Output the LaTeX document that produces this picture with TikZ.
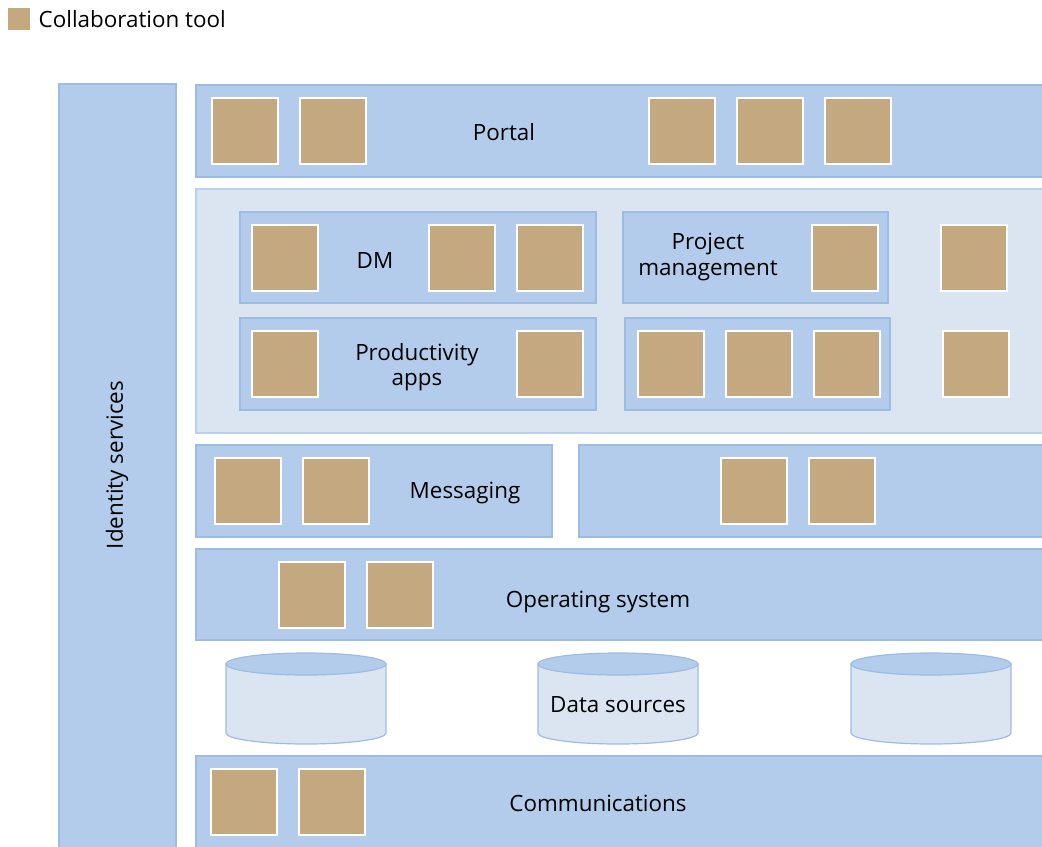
\documentclass[tikz,border=0pt]{standalone}
\usepackage{fontspec}
\setmainfont{Open Sans}
\usetikzlibrary{fit}
\definecolor{bandblue}{RGB}{179,204,235}
\definecolor{bandedge}{RGB}{157,188,226}
\definecolor{lightblue}{RGB}{218,229,241}
\definecolor{tan}{RGB}{196,168,128}
\tikzset{
  band/.style={draw=bandedge, fill=bandblue, line width=0.9pt, inner sep=0pt},
  lightband/.style={draw=bandedge!70, fill=lightblue, line width=0.9pt, inner sep=0pt},
  tool/.style={draw=white, fill=tan, line width=0.9pt, minimum size=49.5pt, inner sep=0pt},
  lbl/.style={font=\fontsize{16.8}{19}\selectfont, align=center, text=black},
  cylbody/.style={draw=bandedge, fill=lightblue, line width=0.9pt},
  cyltop/.style={draw=bandedge, fill=bandblue, line width=0.9pt},
}
\begin{document}
\begin{tikzpicture}[x=0.75pt, y=-0.75pt]
\useasboundingbox (0,0) rectangle (1042,846);
\clip (0,0) rectangle (1042,846);
% legend
\node[tool, minimum size=16.5pt, draw=none] (leg) at (19,19) {};
\node[lbl, anchor=west] (legt) at (34,19) {Collaboration tool};
% identity services
\node[band, fit={(59,84)(176,850)}] (ident) {};
\node[lbl, rotate=90] (identt) at (117,465) {Identity services};
% portal
\node[band, fit={(196,85)(1050,177)}] (portal) {};
\node[lbl] (portalt) at (504,132) {Portal};
\node[tool] (p1) at (245,131) {};
\node[tool] (p2) at (333,131) {};
\node[tool] (p3) at (682,131) {};
\node[tool] (p4) at (770,131) {};
\node[tool] (p5) at (858,131) {};
% middle light band
\node[lightband, fit={(196,189)(1050,433)}] (mid) {};
\node[band, fit={(240,212)(596,303)}] (dm) {};
\node[lbl] (dmt) at (375,261) {DM};
\node[tool] (d1) at (285,258) {};
\node[tool] (d2) at (462,258) {};
\node[tool] (d3) at (550,258) {};
\node[band, fit={(623,212)(888,303)}] (pm) {};
\node[lbl] (pmt) at (708,257) {Project\\management};
\node[tool] (pm1) at (845,258) {};
\node[tool] (s1) at (974,258) {};
\node[band, fit={(240,318)(596,410)}] (prod) {};
\node[lbl] (prodt) at (417,367) {Productivity\\apps};
\node[tool] (pr1) at (285,364) {};
\node[tool] (pr2) at (550,364) {};
\node[band, fit={(625,318)(890,410)}] (rb) {};
\node[tool] (r1) at (671,364) {};
\node[tool] (r2) at (759,364) {};
\node[tool] (r3) at (847,364) {};
\node[tool] (s2) at (976,364) {};
% messaging
\node[band, fit={(196,445)(552,537)}] (msg) {};
\node[lbl] (msgt) at (465,493) {Messaging};
\node[tool] (m1) at (248,491) {};
\node[tool] (m2) at (336,491) {};
\node[band, fit={(579,445)(1050,537)}] (msgr) {};
\node[tool] (m3) at (754,491) {};
\node[tool] (m4) at (842,491) {};
% operating system
\node[band, fit={(196,549)(1050,640)}] (os) {};
\node[lbl] (ost) at (598,602) {Operating system};
\node[tool] (o1) at (312,595) {};
\node[tool] (o2) at (400,595) {};
% data sources
\foreach \cx/\nm in {306/c1,618/c2,931/c3}{
  \filldraw[cylbody] (\cx-80,664) -- (\cx-80,733) arc[start angle=180, end angle=360, x radius=60pt, y radius=8.25pt] -- (\cx+80,664) -- cycle;
  \filldraw[cyltop] (\cx,664) ellipse[x radius=60pt, y radius=8.25pt];
  \coordinate (\nm) at (\cx,700);
}
\node[lbl] (dst) at (618,705) {Data sources};
% communications
\node[band, fit={(196,756)(1050,850)}] (comm) {};
\node[lbl] (commt) at (598,803) {Communications};
\node[tool] (k1) at (244,802) {};
\node[tool] (k2) at (332,802) {};
\end{tikzpicture}
\end{document}
